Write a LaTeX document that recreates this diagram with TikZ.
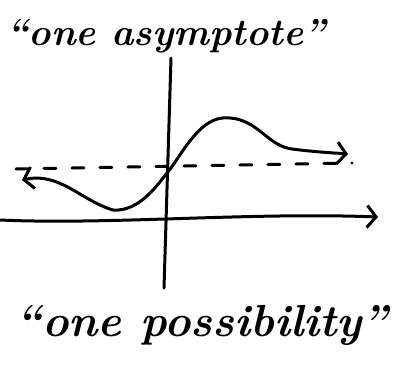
\documentclass[tikz,border=0pt]{standalone}
\usepackage{tikz}
\usetikzlibrary{arrows.meta}

\begin{document}
\begin{tikzpicture}[
  x=1bp, y=-1bp,
  >={Straight Barb[length=9bp, width=22bp, line width=3bp]},
  stroke/.style={line width=3bp, line cap=round, line join=round},
  hand/.style={font=\fontsize{38}{42}\selectfont\bfseries\itshape}
]
\useasboundingbox (0,0) rectangle (399,378);

% Title
\node[hand] (title) at (166,36) {``one asymptote''};

% === axes ===
\coordinate (ytop) at (171,58);
\coordinate (ybot) at (164,288);
\coordinate (xleft) at (0,220);
\coordinate (xright) at (378,217);

\draw[stroke] (ytop) -- (ybot);
\draw[stroke, ->] (xleft) .. controls (110,225) and (250,212) .. (xright);

% === asymptote ===
\coordinate (asleft) at (16,169);
\coordinate (asright) at (352,163);
\draw[stroke, dash pattern=on 12bp off 16bp] (asleft) -- (asright);

% === curve ===
\draw[stroke, <->] (22,180)
  .. controls (60,172) and (80,200) .. (113,210)
  .. controls (140,212) and (158,184) .. (171,168)
  .. controls (190,140) and (205,115) .. (230,118)
  .. controls (258,120) and (268,146) .. (292,149)
  .. controls (315,152) and (335,153) .. (348,154);

% Caption
\node[hand, font=\fontsize{45}{50}\selectfont\bfseries\itshape] (caption) at (202,325) {``one possibility''};

\end{tikzpicture}
\end{document}
